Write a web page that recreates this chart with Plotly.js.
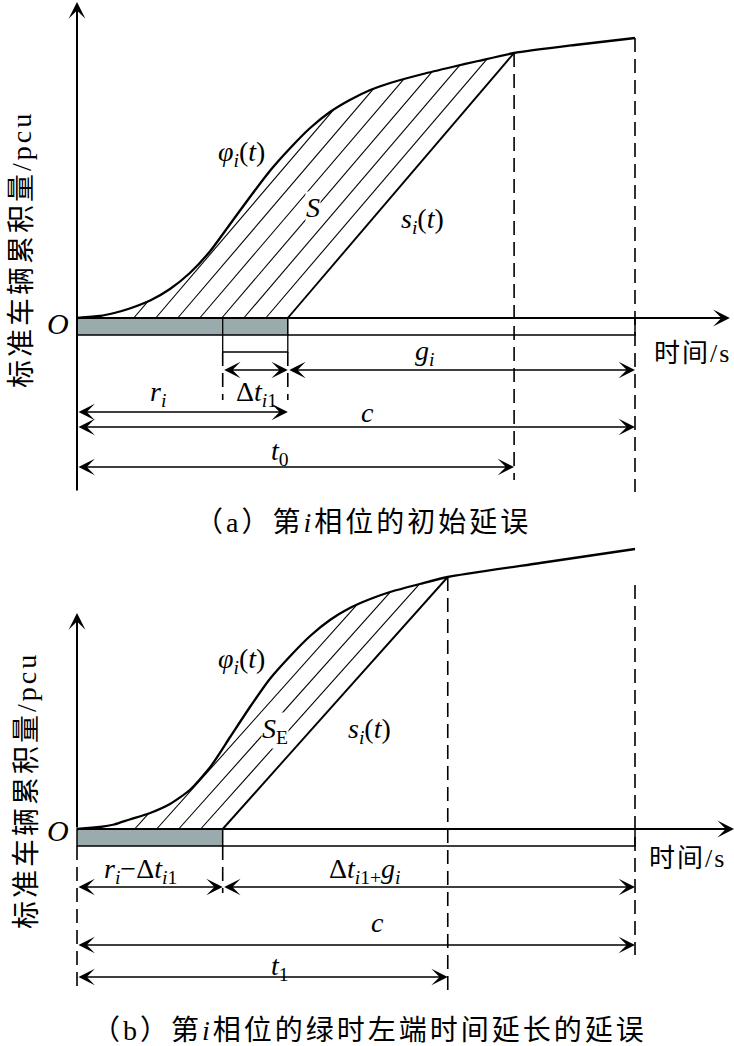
<!DOCTYPE html>
<html><head><meta charset="utf-8">
<script src="https://cdn.plot.ly/plotly-3.0.1.min.js"></script>
<style>body{margin:0;background:#fff}</style>
</head><body>
<div id="chart" style="width:734px;height:1046px"></div>
<script>
// ---- time values (s) ----
const cycle = 90;            // c
const red = 34;              // r_i
const dt1 = 10.5;            // Δt_i1
const t0 = 70.5;             // t_0
const t1 = 59.8;             // t_1

// ---- arrival curve φ_i(t), panel (a) ----
const phiA_t = [0, 3.7, 6.0, 8.5, 11.8, 15.0, 18.2, 21.5, 24.7, 27.9, 31.1, 34.4, 37.6, 40.8, 44.0, 47.3, 50.5, 55.8, 60.5, 64.7, 70.5, 80.3, 90];
const phiA_n = [0, 0.2, 0.5, 0.95, 1.75, 2.9, 4.5, 6.7, 9.4, 12.1, 14.7, 17.0, 19.0, 20.6, 21.8, 22.8, 23.5, 24.4, 25.1, 25.7, 26.5, 27.3, 28.0];
// ---- arrival curve φ_i(t), panel (b) ----
const phiB_t = [0, 3.7, 6.0, 8.5, 11.8, 15.0, 18.2, 21.5, 24.7, 27.9, 31.1, 34.4, 37.6, 40.8, 44.0, 47.3, 50.5, 55.3, 59.8, 74.7, 90];
const phiB_n = [0, 0.2, 0.45, 0.95, 1.6, 2.5, 3.9, 6.2, 9.2, 12.2, 15.0, 17.3, 19.3, 20.9, 22.1, 23.0, 23.7, 24.5, 25.2, 26.6, 28.0];

// ---- style constants ----
const BAR = 1.7, HATCH_GAP = 3.55;
const FONT = 'Liberation Serif, Noto Sans CJK SC';
const GRAY = '#9aabae';

function interp(ts, ns, t) {
  for (let i = 1; i < ts.length; i++) {
    if (t <= ts[i]) { const f = (t - ts[i-1]) / (ts[i] - ts[i-1]); return ns[i-1] + f * (ns[i] - ns[i-1]); }
  }
  return ns[ns.length - 1];
}
function hatch(ts, ns, tStart, tEnd, count) {
  const m = interp(ts, ns, tEnd) / (tEnd - tStart);
  const xs = [], ys = [];
  for (let k = 1; k <= count; k++) {
    const b = tStart - k * HATCH_GAP;
    let tp = b, fp = interp(ts, ns, b), root = null;
    for (let i = 0; i < ts.length; i++) {
      if (ts[i] <= b) continue;
      const f = ns[i] - m * (ts[i] - b);
      if (f <= 0) { root = tp + fp * (ts[i] - tp) / (fp - f); break; }
      tp = ts[i]; fp = f;
    }
    if (root === null) continue;
    xs.push(b, root, null); ys.push(0, m * (root - b), null);
  }
  return {xs, ys};
}

const traces = [];
function addPanel(ax, ay, ts, ns, sStart, sEnd, hatchCount, guides, extra) {
  const h = hatch(ts, ns, sStart, sEnd, hatchCount);
  traces.push({x: h.xs, y: h.ys, xaxis: ax, yaxis: ay, mode: 'lines', line: {color: '#000', width: 1.1}, hoverinfo: 'skip'});
  traces.push({x: ts, y: ns, xaxis: ax, yaxis: ay, mode: 'lines', line: {color: '#000', width: 2.3, shape: 'spline', smoothing: 0.6}, hoverinfo: 'skip'});
  traces.push({x: [sStart, sEnd], y: [0, interp(ts, ns, sEnd)], xaxis: ax, yaxis: ay, mode: 'lines', line: {color: '#000', width: 1.9}, hoverinfo: 'skip'});
  const gx = [], gy = [];
  guides.forEach(g => { gx.push(g[0], g[0], null); gy.push(g[1], g[2], null); });
  traces.push({x: gx, y: gy, xaxis: ax, yaxis: ay, mode: 'lines', line: {color: '#000', width: 1.6, dash: '14px,7px'}, hoverinfo: 'skip'});
  if (extra) traces.push(Object.assign({xaxis: ax, yaxis: ay, mode: 'lines', line: {color: '#000', width: 1.3}, hoverinfo: 'skip'}, extra));
}

addPanel('x', 'y', phiA_t, phiA_n, red, t0, 7,
  [[t0, interp(phiA_t, phiA_n, t0), -16.2], [cycle, interp(phiA_t, phiA_n, cycle), -17.4], [red - dt1, -3.4, -8.2], [red, -3.4, -8.2]],
  {x: [red - dt1, red - dt1, red, red], y: [0, -3.4, -3.4, -BAR]});
addPanel('x2', 'y2', phiB_t, phiB_n, red - dt1, t1, 4,
  [[0, -BAR, -16.1], [red - dt1, -BAR, -6.4], [t1, interp(phiB_t, phiB_n, t1), -16.1], [cycle, 24.4, -12.6]], null);

function arrow(xr, yr, xa, ya, xb, yb, both, w, s) {
  return {xref: xr, yref: yr, axref: xr, ayref: yr, x: xb, y: yb, ax: xa, ay: ya, text: '', showarrow: true,
    arrowhead: 3, arrowsize: s || 2.1, arrowwidth: w || 1.3, arrowcolor: '#000',
    arrowside: both ? 'end+start' : 'end', startarrowhead: 3, startarrowsize: s || 2.1};
}
function label(xr, yr, x, y, text, size, bg) {
  return {xref: xr, yref: yr, x: x, y: y, text: text, showarrow: false, xanchor: 'center', yanchor: 'middle',
    font: {family: FONT, size: size || 28, color: '#000'}, bgcolor: bg ? '#fff' : 'rgba(0,0,0,0)', borderpad: 0};
}
function sp(text, px) { return '<span style="letter-spacing:' + px + 'px">' + text + '</span>'; }

const annotations = [
  // axes (a)
  arrow('x', 'y', 0, -17.4, 0, 31.6, false, 2, 1.4),
  arrow('x', 'y', 0, 0, 105.3, 0, false, 2, 1.4),
  // dimensions (a)
  arrow('x', 'y', red - dt1, -5.2, red, -5.2, true),
  arrow('x', 'y', red, -5.2, cycle, -5.2, true),
  arrow('x', 'y', 0, -9.4, red, -9.4, true),
  arrow('x', 'y', 0, -10.9, cycle, -10.9, true),
  arrow('x', 'y', 0, -14.9, t0, -14.9, true),
  // axes (b)
  arrow('x2', 'y2', 0, 0, 0, 21.6, false, 2, 1.4),
  arrow('x2', 'y2', 0, 0, 106, 0, false, 2, 1.4),
  // dimensions (b)
  arrow('x2', 'y2', 0, -5.8, red - dt1, -5.8, true),
  arrow('x2', 'y2', red - dt1, -5.8, cycle, -5.8, true),
  arrow('x2', 'y2', 0, -11.6, cycle, -11.6, true),
  arrow('x2', 'y2', 0, -14.8, t1, -14.8, true),
  // labels (a)
  label('x', 'y', 26.5, 16.5, '<i>φ<sub>i</sub></i>(<i>t</i>)'),
  label('x', 'y', 38.1, 11.1, '<i>S</i>', 28, true),
  label('x', 'y', 55.7, 9.8, '<i>s<sub>i</sub></i>(<i>t</i>)'),
  label('x', 'y', -3.1, -0.5, '<i>O</i>', 30),
  label('x', 'y', 99.2, -3.5, sp('时间/s', 2), 26),
  label('x', 'y', 13.1, -7.5, '<i>r<sub>i</sub></i>'),
  label('x', 'y', 29.0, -7.5, 'Δ<i>t</i><sub><i>i</i>1</sub>'),
  label('x', 'y', 56.1, -3.4, '<i>g<sub>i</sub></i>'),
  label('x', 'y', 46.8, -9.4, '<i>c</i>'),
  label('x', 'y', 32.7, -13.4, '<i>t</i><sub>0</sub>'),
  // labels (b)
  label('x2', 'y2', 26.5, 16.9, '<i>φ<sub>i</sub></i>(<i>t</i>)'),
  label('x2', 'y2', 31.9, 9.9, '<i>S</i><sub>E</sub>', 28, true),
  label('x2', 'y2', 47.1, 9.9, '<i>s<sub>i</sub></i>(<i>t</i>)'),
  label('x2', 'y2', -3.1, -0.1, '<i>O</i>', 30),
  label('x2', 'y2', 98.5, -2.9, sp('时间/s', 2), 26),
  label('x2', 'y2', 10.3, -4.1, '<i>r<sub>i</sub></i>−Δ<i>t</i><sub><i>i</i>1</sub>'),
  label('x2', 'y2', 46.5, -4.1, 'Δ<i>t</i><sub><i>i</i>1+</sub><i>g<sub>i</sub></i>'),
  label('x2', 'y2', 48.4, -9.3, '<i>c</i>'),
  label('x2', 'y2', 32.7, -13.8, '<i>t</i><sub>1</sub>'),
  // titles
  {xref: 'paper', yref: 'paper', x: 21/734, y: 1 - 250/1046, text: sp('标准车辆累积量/pcu', 3), textangle: -90, showarrow: false,
   font: {family: FONT, size: 28, color: '#000'}, xanchor: 'center', yanchor: 'middle'},
  {xref: 'paper', yref: 'paper', x: 27/734, y: 1 - 791/1046, text: sp('标准车辆累积量/pcu', 3), textangle: -90, showarrow: false,
   font: {family: FONT, size: 28, color: '#000'}, xanchor: 'center', yanchor: 'middle'},
  {xref: 'paper', yref: 'paper', x: 363/734, y: 1 - 522/1046, text: sp('（a）第<i>i</i>相位的初始延误', 3), showarrow: false,
   font: {family: FONT, size: 28, color: '#000'}, xanchor: 'center', yanchor: 'middle'},
  {xref: 'paper', yref: 'paper', x: 369/734, y: 1 - 1030/1046, text: sp('（b）第<i>i</i>相位的绿时左端时间延长的延误', 3), showarrow: false,
   font: {family: FONT, size: 28, color: '#000'}, xanchor: 'center', yanchor: 'middle'}
];

const shapes = [
  {type: 'rect', xref: 'x', yref: 'y', x0: 0, x1: red, y0: 0, y1: -BAR, fillcolor: GRAY, line: {color: '#000', width: 1.5}, layer: 'below'},
  {type: 'rect', xref: 'x', yref: 'y', x0: red, x1: cycle, y0: 0, y1: -BAR, fillcolor: '#fff', line: {color: '#000', width: 1.5}, layer: 'below'},
  {type: 'rect', xref: 'x2', yref: 'y2', x0: 0, x1: red - dt1, y0: 0, y1: -BAR, fillcolor: GRAY, line: {color: '#000', width: 1.5}, layer: 'below'},
  {type: 'rect', xref: 'x2', yref: 'y2', x0: red - dt1, x1: cycle, y0: 0, y1: -BAR, fillcolor: '#fff', line: {color: '#000', width: 1.5}, layer: 'below'}
];

const xr = [-77/6.2, 657/6.2];
const layout = {
  width: 734, height: 1046, margin: {l: 0, r: 0, t: 0, b: 0}, showlegend: false,
  paper_bgcolor: '#fff', plot_bgcolor: 'rgba(0,0,0,0)', font: {family: FONT, color: '#000'},
  xaxis: {domain: [0, 1], range: xr, visible: false, anchor: 'y', fixedrange: true},
  yaxis: {domain: [1 - 520/1046, 1], range: [-20.2, 31.8], visible: false, anchor: 'x', fixedrange: true},
  xaxis2: {domain: [0, 1], range: xr, visible: false, anchor: 'y2', fixedrange: true},
  yaxis2: {domain: [0, 1 - 520/1046], range: [-21.7, 30.9], visible: false, anchor: 'x2', fixedrange: true},
  annotations: annotations, shapes: shapes
};
Plotly.newPlot('chart', traces, layout, {staticPlot: true});
</script>
</body></html>
